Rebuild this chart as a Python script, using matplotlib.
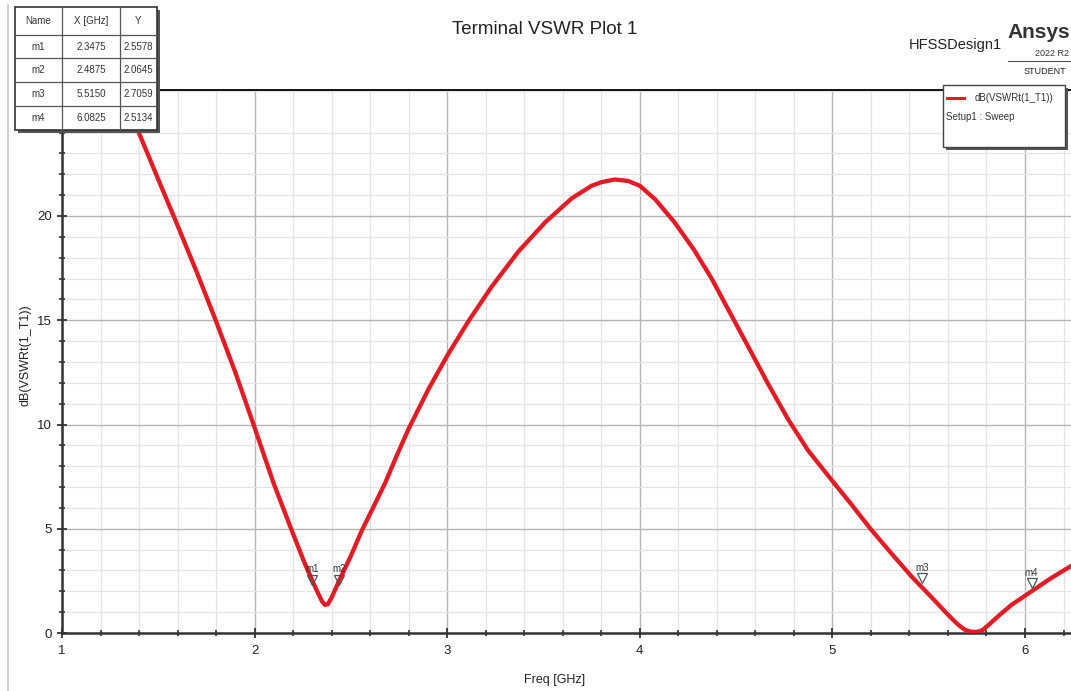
import matplotlib
matplotlib.use("Agg")
import matplotlib.pyplot as plt
from matplotlib.patches import Rectangle
from matplotlib.lines import Line2D

plt.rcParams['font.family'] = ['Liberation Sans', 'DejaVu Sans']

# ---- data ----
freq_ghz = [1.28, 1.39, 1.50, 1.60, 1.70, 1.80, 1.90, 2.00, 2.10, 2.20, 2.26, 2.30,
            2.33, 2.35, 2.365, 2.38, 2.40, 2.436, 2.50, 2.557, 2.62, 2.678, 2.74,
            2.80, 2.903, 3.00, 3.11, 3.23, 3.37, 3.509, 3.647, 3.75, 3.80, 3.87,
            3.94, 4.00, 4.08, 4.18, 4.28, 4.373, 4.46, 4.562, 4.666, 4.77, 4.874,
            4.995, 5.10, 5.20, 5.306, 5.41, 5.514, 5.60, 5.65, 5.687, 5.72, 5.75,
            5.78, 5.81, 5.86, 5.93, 6.034, 6.13, 6.24]
vswr_db = [26.7, 24.2, 21.75, 19.55, 17.3, 14.95, 12.5, 9.85, 7.15, 4.75, 3.35, 2.50,
           1.90, 1.52, 1.35, 1.38, 1.70, 2.45, 3.70, 4.92, 6.10, 7.20, 8.55,
           9.80, 11.70, 13.30, 14.95, 16.60, 18.30, 19.70, 20.85, 21.45, 21.62, 21.75,
           21.68, 21.45, 20.80, 19.70, 18.40, 17.00, 15.50, 13.75, 11.95, 10.25, 8.75,
           7.35, 6.15, 4.97, 3.82, 2.72, 1.72, 0.88, 0.42, 0.16, 0.06, 0.05,
           0.14, 0.38, 0.80, 1.35, 2.00, 2.60, 3.22]

marker_names = ['m1', 'm2', 'm3', 'm4']
marker_x_table = ['2.3475', '2.4875', '5.5150', '6.0825']
marker_y_table = ['2.5578', '2.0645', '2.7059', '2.5134']
marker_x_plot = [2.30, 2.44, 5.466, 6.034]
marker_y_plot = [2.55, 2.55, 2.63, 2.39]

x_ticks = [1, 2, 3, 4, 5, 6]
y_ticks = [0, 5, 10, 15, 20]

W, H = 1071, 691
fig = plt.figure(figsize=(W / 100, H / 100), dpi=100)
fig.patch.set_facecolor('white')

def fx(px):
    return px / W

def fy(py):
    return 1 - py / H

ax_l, ax_r, ax_t, ax_b = 62, 1071, 90, 633
ax = fig.add_axes([fx(ax_l), fy(ax_b), fx(ax_r - ax_l), (ax_b - ax_t) / H])
ax.set_xlim(1, 1 + (ax_r - ax_l) / 192.6)
ax.set_ylim(0, (ax_b - ax_t) / 20.85)

ax.plot(freq_ghz, vswr_db, color='#e21b24', lw=3.1, solid_capstyle='round',
        solid_joinstyle='round', zorder=3)

ax.set_xticks(x_ticks)
ax.set_yticks(y_ticks)
ax.set_xticks([1 + 0.2 * i for i in range(1, 27) if i % 5 != 0], minor=True)
ax.set_yticks([i for i in range(1, 27) if i % 5 != 0], minor=True)
ax.grid(which='major', color='#b4b4b4', lw=1.0, zorder=0)
ax.grid(which='minor', color='#e4e4e4', lw=0.9, zorder=0)
ax.tick_params(which='major', direction='inout', length=7, width=1.3, colors='#333333',
               labelsize=9.5, labelcolor='#222222', pad=5)
ax.tick_params(axis='y', which='major', pad=4)
ax.tick_params(which='minor', direction='inout', length=4, width=1.2, colors='#333333')
for s in ['left', 'bottom']:
    ax.spines[s].set_color('#333333')
    ax.spines[s].set_linewidth(1.8)
ax.spines['top'].set_color('#111111')
ax.spines['top'].set_linewidth(1.4)
ax.spines['right'].set_visible(False)

# markers
for nm, mx, my in zip(marker_names, marker_x_plot, marker_y_plot):
    ax.plot(mx, my, marker='v', ms=7, mfc='none', mec='#3c5a5a', mew=0.9, zorder=4)
    ax.annotate(nm, (mx, my), xytext=(0, 4), textcoords='offset points',
                ha='center', va='bottom', fontsize=7, color='#333333', zorder=4)

ax.set_xlabel('Freq [GHz]', fontsize=9, color='#222222')
ax.xaxis.set_label_coords((555 - ax_l) / (ax_r - ax_l), -(674 - ax_b) / (ax_b - ax_t))
ax.set_ylabel('dB(VSWRt(1_T1))', fontsize=9, color='#222222')
ax.yaxis.set_label_coords(-(ax_l - 32) / (ax_r - ax_l), (ax_b - 355) / (ax_b - ax_t))

# left frame line
fig.add_artist(Line2D([fx(8), fx(8)], [0, fy(5)], color='#c8c8c8', lw=1.2))

# title block
fig.text(fx(545), fy(30), 'Terminal VSWR Plot 1', ha='center', va='center',
         fontsize=13.5, color='#222222')
fig.text(fx(955), fy(45), 'HFSSDesign1', ha='center', va='center',
         fontsize=10.5, color='#222222')
fig.text(fx(1007), fy(38), 'Ansys', ha='left', va='baseline', fontsize=15,
         fontweight='bold', color='#333333')
fig.text(fx(1035), fy(53), '2022 R2', ha='left', va='center', fontsize=6.5,
         color='#333333')
fig.add_artist(Line2D([fx(1008), fx(1071)], [fy(61), fy(61)], color='#555555', lw=0.8))
fig.text(fx(1024), fy(72), 'STUDENT', ha='left', va='center', fontsize=6.5,
         color='#222222')

# marker table
tx0, tx1, tx2, tx3 = 15, 62, 120, 157
row_y = [7, 35, 58, 82, 106, 130]
fig.add_artist(Rectangle((fx(tx0 + 3), fy(row_y[-1] + 3)), fx(tx3 - tx0), (row_y[-1] - row_y[0]) / H,
                         facecolor='#555555', edgecolor='none', zorder=9))
fig.add_artist(Rectangle((fx(tx0), fy(row_y[-1])), fx(tx3 - tx0), (row_y[-1] - row_y[0]) / H,
                         facecolor='white', edgecolor='#333333', lw=1.2, zorder=10))
for cx in [tx1, tx2]:
    fig.add_artist(Line2D([fx(cx), fx(cx)], [fy(row_y[0]), fy(row_y[-1])], color='#555555',
                          lw=0.9, zorder=11))
for ry in row_y[1:-1]:
    fig.add_artist(Line2D([fx(tx0), fx(tx3)], [fy(ry), fy(ry)], color='#555555',
                          lw=0.9, zorder=11))
headers = ['Name', 'X [GHz]', 'Y']
cols_c = [(tx0 + tx1) / 2, (tx1 + tx2) / 2, (tx2 + tx3) / 2]
for h, cxm in zip(headers, cols_c):
    fig.text(fx(cxm), fy((row_y[0] + row_y[1]) / 2), h, ha='center', va='center',
             fontsize=7, color='#333333', zorder=12)
for i, (nm, xv, yv) in enumerate(zip(marker_names, marker_x_table, marker_y_table)):
    cy = (row_y[i + 1] + row_y[i + 2]) / 2
    for val, cxm in zip([nm, xv, yv], cols_c):
        fig.text(fx(cxm), fy(cy), val, ha='center', va='center', fontsize=7,
                 color='#333333', zorder=12)

# legend box
lx0, ly0, lx1, ly1 = 943, 85, 1065, 147
fig.add_artist(Rectangle((fx(lx0 + 3), fy(ly1 + 3)), fx(lx1 - lx0), (ly1 - ly0) / H,
                         facecolor='#555555', edgecolor='none', zorder=9))
fig.add_artist(Rectangle((fx(lx0), fy(ly1)), fx(lx1 - lx0), (ly1 - ly0) / H,
                         facecolor='white', edgecolor='#444444', lw=1.0, zorder=10))
fig.add_artist(Line2D([fx(947), fx(964)], [fy(98), fy(98)], color='#e21b24', lw=2.2, zorder=11))
fig.text(fx(975), fy(98), 'dB(VSWRt(1_T1))', ha='left', va='center', fontsize=7,
         color='#333333', zorder=12)
fig.text(fx(946), fy(117), 'Setup1 : Sweep', ha='left', va='center', fontsize=7,
         color='#333333', zorder=12)

fig.savefig('out.png', dpi=100, facecolor='white')
